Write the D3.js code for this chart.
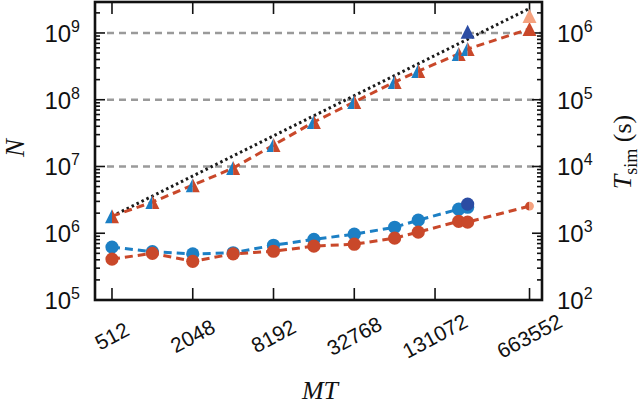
<!DOCTYPE html>
<html>
<head>
<meta charset="utf-8">
<script src="https://cdn.jsdelivr.net/npm/d3@7"></script>
<style>
  body { margin: 0; background: #fff; }
  svg { display: block; }
  text { font-family: "Liberation Sans", Arial, sans-serif; fill: #111; }
  .math { font-family: "Liberation Serif", "Times New Roman", serif; }
</style>
</head>
<body>
<svg id="chart" width="642" height="406"></svg>
<script>
// MT values for the half-filled markers (both runs)
const mt = [512, 1024, 2048, 4096, 8192, 16384, 32768, 65536, 98304, 196608, 229376];
const mtRed = mt.concat([663552]);
const nShared = [1.8e6, 2.93e6, 5.25e6, 9.46e6, 2.09e7, 4.64e7, 9.25e7, 1.84e8, 2.69e8, 4.84e8, 5.75e8];
const nRed = nShared.concat([1.15e9]);
const tBlue = [620, 530, 490, 510, 661, 810, 968, 1230, 1570, 2290, 2450];
const tRed = [410, 500, 380, 490, 537, 641, 685, 846, 1040, 1510, 1470, 2550];
// odd ones out
const extraTri = [
  { mt: 229376, n: 1.04e9, fill: '#2b4ca3' },
  { mt: 663552, n: 1.8e9, fill: '#f5a27f' },
];
const extraDot = { mt: 229376, t: 2730, fill: '#2b4ca3' };
const halfDot = { mt: 663552, t: 2550 };
// ideal linear scaling N ~ MT
const idealMt = [512, 663552];
const idealN = [1.8e6, 2.33e9];

const xTicks = [512, 2048, 8192, 32768, 131072, 663552];
const nTicks = [1e5, 1e6, 1e7, 1e8, 1e9];
const tTicks = [1e2, 1e3, 1e4, 1e5, 1e6];
const gridN = [1e7, 1e8, 1e9];

const BLUE = '#1c7fc4';
const RED = '#c9482a';

const box = { left: 95, right: 542, top: 2, bottom: 300 };
const svg = d3.select('#chart');

const x = d3.scaleLog().base(2).domain([382.5, 822000]).range([box.left, box.right]);
const yN = d3.scaleLog().domain([1e5, 2.91e9]).range([box.bottom, box.top]);
const yT = d3.scaleLog().domain([1e2, 2.91e6]).range([box.bottom, box.top]);

// grid
svg.append('g').selectAll('line').data(gridN).enter().append('line')
  .attr('x1', box.left + 12).attr('x2', box.right)
  .attr('y1', (d) => yN(d)).attr('y2', (d) => yN(d))
  .attr('stroke', '#9a9a9a').attr('stroke-width', 2.6)
  .attr('stroke-dasharray', '7,5');

// minor ticks helper
function minors(scale) {
  const [a, b] = scale.domain();
  const out = [];
  for (let e = Math.floor(Math.log10(a)); e <= Math.ceil(Math.log10(b)); e++) {
    for (let m = 2; m <= 9; m++) {
      const v = m * Math.pow(10, e);
      if (v > a && v < b) out.push(v);
    }
  }
  return out;
}

const ticks = svg.append('g').attr('stroke', '#111').attr('stroke-width', 1.6);
ticks.selectAll('line.nmaj').data(nTicks).enter().append('line').attr('class', 'nmaj')
  .attr('x1', box.left).attr('x2', box.left + 10).attr('y1', (d) => yN(d)).attr('y2', (d) => yN(d));
ticks.selectAll('line.nmin').data(minors(yN)).enter().append('line').attr('class', 'nmin')
  .attr('x1', box.left).attr('x2', box.left + 5).attr('y1', (d) => yN(d)).attr('y2', (d) => yN(d));
ticks.selectAll('line.tmaj').data(tTicks).enter().append('line').attr('class', 'tmaj')
  .attr('x1', box.right).attr('x2', box.right - 10).attr('y1', (d) => yT(d)).attr('y2', (d) => yT(d));
ticks.selectAll('line.tmin').data(minors(yT)).enter().append('line').attr('class', 'tmin')
  .attr('x1', box.right).attr('x2', box.right - 5).attr('y1', (d) => yT(d)).attr('y2', (d) => yT(d));
ticks.selectAll('line.xb').data(xTicks).enter().append('line').attr('class', 'xb')
  .attr('x1', (d) => x(d)).attr('x2', (d) => x(d)).attr('y1', box.bottom).attr('y2', box.bottom - 12);
ticks.selectAll('line.xt').data(xTicks).enter().append('line').attr('class', 'xt')
  .attr('x1', (d) => x(d)).attr('x2', (d) => x(d)).attr('y1', box.top).attr('y2', box.top + 12);

// lines
const lineN = d3.line().x((d) => x(d[0])).y((d) => yN(d[1]));
const lineT = d3.line().x((d) => x(d[0])).y((d) => yT(d[1]));

svg.append('path').datum(d3.zip(idealMt, idealN)).attr('d', lineN)
  .attr('fill', 'none').attr('stroke', '#1a1a1a').attr('stroke-width', 3)
  .attr('stroke-dasharray', '2.5,3');
svg.append('path').datum(d3.zip(mtRed, nRed)).attr('d', lineN)
  .attr('fill', 'none').attr('stroke', RED).attr('stroke-width', 3)
  .attr('stroke-dasharray', '8,5');
svg.append('path').datum(d3.zip(mt, tBlue)).attr('d', lineT)
  .attr('fill', 'none').attr('stroke', BLUE).attr('stroke-width', 3)
  .attr('stroke-dasharray', '8,5');
svg.append('path').datum(d3.zip(mtRed, tRed)).attr('d', lineT)
  .attr('fill', 'none').attr('stroke', RED).attr('stroke-width', 3)
  .attr('stroke-dasharray', '8,5');

// markers
const h = 7;
const triL = `M0,${-h}L${-h},${h}L0,${h}Z`;
const triR = `M0,${-h}L0,${h}L${h},${h}Z`;
const tri = `M0,${-h}L${-h},${h}L${h},${h}Z`;
const arcL = (r) => `M0,${-r}A${r},${r} 0 0 0 0,${r}Z`;
const arcR = (r) => `M0,${-r}A${r},${r} 0 0 1 0,${r}Z`;

const mk = svg.append('g');
mk.selectAll('circle.tb').data(d3.zip(mt, tBlue)).enter().append('circle')
  .attr('cx', (d) => x(d[0])).attr('cy', (d) => yT(d[1])).attr('r', 6.6).attr('fill', BLUE);
mk.append('circle').attr('cx', x(extraDot.mt)).attr('cy', yT(extraDot.t)).attr('r', 6.6)
  .attr('fill', extraDot.fill);
mk.selectAll('circle.tr').data(d3.zip(mtRed, tRed).slice(0, mt.length)).enter().append('circle')
  .attr('cx', (d) => x(d[0])).attr('cy', (d) => yT(d[1])).attr('r', 6.6).attr('fill', RED);
const hd = mk.append('g').attr('transform', `translate(${x(halfDot.mt)},${yT(halfDot.t)})`);
hd.append('path').attr('d', arcL(4.4)).attr('fill', RED);
hd.append('path').attr('d', arcR(4.4)).attr('fill', '#f5a27f');

const half = mk.selectAll('g.tri').data(d3.zip(mt, nShared)).enter().append('g')
  .attr('transform', (d) => `translate(${x(d[0])},${yN(d[1])})`);
half.append('path').attr('d', triL).attr('fill', BLUE);
half.append('path').attr('d', triR).attr('fill', RED);
mk.append('path').attr('d', tri).attr('fill', RED)
  .attr('transform', `translate(${x(mtRed[mt.length])},${yN(nRed[mt.length])})`);
mk.selectAll('path.ex').data(extraTri).enter().append('path')
  .attr('d', tri).attr('fill', (d) => d.fill)
  .attr('transform', (d) => `translate(${x(d.mt)},${yN(d.n)})`);

// frame
svg.append('rect').attr('x', box.left).attr('y', box.top)
  .attr('width', box.right - box.left).attr('height', box.bottom - box.top)
  .attr('fill', 'none').attr('stroke', '#111').attr('stroke-width', 2.6);

// tick labels
function power(sel, anchor) {
  sel.attr('text-anchor', anchor).style('font-size', '24px')
    .text('10')
    .append('tspan').attr('dy', -10).style('font-size', '16px')
    .text((d) => Math.round(Math.log10(d)));
}
svg.selectAll('text.nl').data(nTicks).enter().append('text')
  .attr('x', 80).attr('y', (d) => yN(d) + 9).call(power, 'end');
svg.selectAll('text.tl').data(tTicks).enter().append('text')
  .attr('x', 557).attr('y', (d) => yT(d) + 9).call(power, 'start');

svg.selectAll('text.xl').data(xTicks).enter().append('text')
  .attr('transform', (d) => `translate(${x(d)},336) rotate(-28)`)
  .attr('text-anchor', 'middle').attr('dy', '0.35em')
  .style('font-size', '21px').text((d) => d);

// axis titles
svg.append('text').attr('class', 'math')
  .attr('x', 320).attr('y', 399).attr('text-anchor', 'middle')
  .style('font-size', '26px').style('font-style', 'italic').text('MT');
svg.append('text').attr('class', 'math')
  .attr('transform', 'translate(24,148) rotate(-90)').attr('text-anchor', 'middle')
  .style('font-size', '27px').style('font-style', 'italic').text('N');
const tl = svg.append('text').attr('class', 'math')
  .attr('transform', 'translate(631,152) rotate(-90)').attr('text-anchor', 'middle')
  .style('font-size', '26px');
tl.append('tspan').style('font-style', 'italic').text('T');
tl.append('tspan').attr('dy', 6).style('font-size', '18px').text('sim');
tl.append('tspan').attr('dy', -6).text(' (s)');
</script>
</body>
</html>
